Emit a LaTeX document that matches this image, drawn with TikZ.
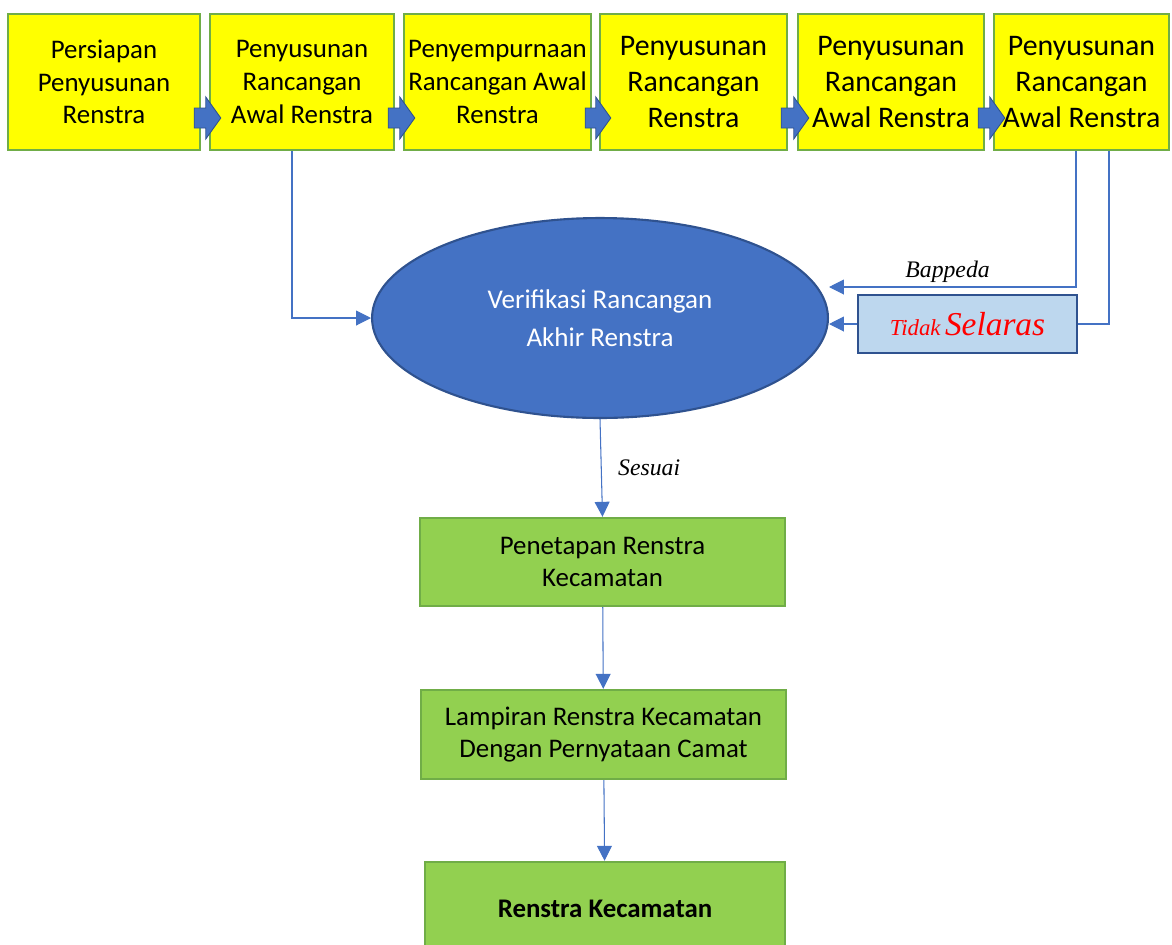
\documentclass[tikz,border=0pt]{standalone}
\usepackage{fontspec}
\setmainfont{Carlito}
\newfontfamily\timesfont{Liberation Serif}
\usetikzlibrary{shapes.geometric,arrows.meta,calc}
\definecolor{wordblue}{HTML}{4472C4}
\definecolor{darkblue}{HTML}{2F528F}
\definecolor{leafgreen}{HTML}{70AD47}
\definecolor{lightgreen}{HTML}{92D050}
\definecolor{paleblue}{HTML}{BDD7EE}
\definecolor{brightyellow}{HTML}{FFFF00}

\begin{document}
\begin{tikzpicture}[x=0.02cm,y=-0.02cm,
  stagebox/.style={draw=leafgreen,line width=1.4pt,fill=brightyellow,minimum height=2.72cm,align=center,inner sep=0pt,font=\fontsize{15.3}{18.6}\selectfont},
  bigstage/.style={stagebox,font=\fontsize{17}{20.6}\selectfont},
  outbox/.style={draw=leafgreen,line width=1.4pt,fill=lightgreen,minimum width=7.3cm,align=center,font=\fontsize{15.3}{18.6}\selectfont},
  conn/.style={draw=wordblue,line width=0.6pt,-{Triangle[length=8.5pt,width=8.5pt]}},
  blockarr/.style={fill=wordblue,draw=darkblue,line width=0.5pt}]
  \clip (0,0) rectangle (1172,944);
  % tahapan penyusunan
  \node[stagebox,minimum width=3.84cm] (b1) at (104,82) {Persiapan\\Penyusunan\\Renstra};
  \node[stagebox,minimum width=3.68cm] (b2) at (302,82) {Penyusunan\\Rancangan\\Awal Renstra};
  \node[stagebox,minimum width=3.74cm] (b3) at (497.5,82) {Penyempurnaan\\Rancangan Awal\\Renstra};
  \node[bigstage,minimum width=3.74cm] (b4) at (693.5,82) {Penyusunan\\Rancangan\\Renstra};
  \node[bigstage,minimum width=3.72cm] (b5) at (891,82) {Penyusunan\\Rancangan\\Awal Renstra};
  \node[bigstage,minimum width=3.5cm] (b6) at (1081.5,82) {Penyusunan\\Rancangan\\Awal Renstra};
  \foreach \a/\b in {b1/b2,b2/b3,b3/b4,b4/b5,b5/b6}
    \filldraw[blockarr] ($(\a.east)+(-7,26)$) -- ($(\b.west)+(-3,26)$) -- ($(\b.west)+(-3,15)$) -- ($(\b.west)+(12,36)$) -- ($(\b.west)+(-3,57)$) -- ($(\b.west)+(-3,46)$) -- ($(\a.east)+(-7,46)$) -- cycle;
  % verifikasi
  \node[ellipse,draw=darkblue,line width=1.2pt,fill=wordblue,text=white,minimum width=9.12cm,minimum height=4cm,align=center,font=\fontsize{15.4}{21.5}\selectfont] (verif) at (600,318) {Verifikasi Rancangan\\Akhir Renstra};
  \node[draw=darkblue,line width=1.4pt,fill=paleblue,minimum width=4.38cm,minimum height=1.16cm,text=red] (tidak) at (967.5,324) {\timesfont\itshape{\fontsize{13}{15}\selectfont Tidak} {\fontsize{19}{22}\selectfont Selaras}};
  \draw[conn] ($(b2.south)+(-10,0)$) |- (verif.west);
  \draw[conn] ($(b6.south)+(-5.5,0)$) |- ($(verif.east)+(0,-31)$) node[pos=0.76,above=-1pt,text=black,font=\timesfont\itshape\fontsize{13.5}{16}\selectfont] {Bappeda};
  \draw[draw=wordblue,line width=0.6pt] ($(b6.south)+(27.5,0)$) |- (tidak.east);
  \draw[conn] (tidak.west) -- (tidak.west -| verif.east);
  % hasil
  \node[outbox,minimum height=1.76cm] (tetap) at (602.5,562) {Penetapan Renstra\\Kecamatan};
  \node[outbox,minimum height=1.78cm] (lampiran) at (603.5,734.5) {Lampiran Renstra Kecamatan\\Dengan Pernyataan Camat};
  \node[outbox,minimum height=1.88cm,minimum width=7.2cm,font=\bfseries\fontsize{15.3}{18.6}\selectfont] (hasil) at (605,909) {Renstra Kecamatan};
  \draw[conn] (verif.south) -- (tetap.north) node[midway,right=6pt,font=\timesfont\itshape\fontsize{13.5}{16}\selectfont] {Sesuai};
  \draw[conn] (tetap) -- (lampiran); \draw[conn] (lampiran) -- (hasil);
\end{tikzpicture}
\end{document}
